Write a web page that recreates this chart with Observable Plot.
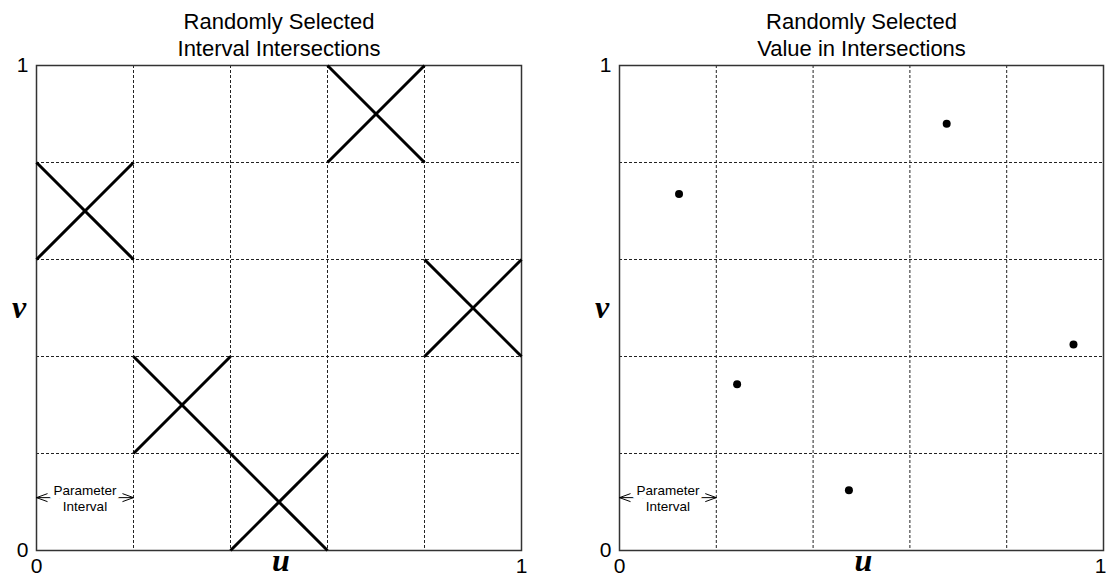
<!DOCTYPE html>
<html><head><meta charset="utf-8">
<script src="https://cdn.jsdelivr.net/npm/d3@7"></script>
<script src="https://cdn.jsdelivr.net/npm/@observablehq/plot@0.6"></script>
<style>
body{margin:0;background:white;}
#row{display:flex;width:1106px;height:581px;}
</style>
</head><body><div id="row"></div>
<script>
// ---- data ----
const intervalBreaks = [0.2, 0.4, 0.6, 0.8];
const nIntervals = 5;
const intervalU = [0, 1, 2, 3, 4];        // selected u-interval (column) per sample
const intervalV = [3, 1, 0, 4, 2];        // selected v-interval (row) per sample
const sampleU = [0.123, 0.243, 0.474, 0.676, 0.938];
const sampleV = [0.735, 0.343, 0.124, 0.880, 0.425];
const titleLeft = ["Randomly Selected", "Interval Intersections"];
const titleRight = ["Randomly Selected", "Value in Intersections"];
const tickLow = [0];
const tickHigh = [1];
const axisLabelU = "u";
const axisLabelV = "v";
const annotationText = "Parameter\nInterval";
const annotationSpan = [0, 0.2];
const annotationV = 0.109;

// ---- derived tables ----
const w = 1 / nIntervals;
const crosses = intervalU.flatMap((c, i) => {
  const r = intervalV[i];
  return [
    {x1: c * w, y1: r * w, x2: (c + 1) * w, y2: (r + 1) * w},
    {x1: c * w, y1: (r + 1) * w, x2: (c + 1) * w, y2: r * w}
  ];
});
const samples = sampleU.map((u, i) => ({u, v: sampleV[i]}));
const annMid = (annotationSpan[0] + annotationSpan[1]) / 2;
const annArrows = annotationSpan.map(e => ({x1: annMid, x2: e, y: annotationV}));

const sans = "'Liberation Sans', Arial, sans-serif";
const serif = "'Liberation Serif', 'Times New Roman', serif";
const tickStyle = {tickSize: 0, label: null, tickFormat: d => String(d), fontSize: 21};
const labelStyle = {text: d => d, fontFamily: serif, fontWeight: "bold", fontStyle: "italic", fontSize: 32, lineAnchor: "middle", textAnchor: "middle"};

function panel(titleLines, dataMarks, marginLeft, marginRight, highDx) {
  return Plot.plot({
    width: 553, height: 581,
    marginTop: 65, marginBottom: 31, marginLeft, marginRight,
    x: {domain: [0, 1]},
    y: {domain: [0, 1]},
    style: {fontFamily: sans, fontSize: "21px", background: "white", color: "black", overflow: "visible"},
    marks: [
      Plot.ruleX(intervalBreaks, {stroke: "#222", strokeWidth: 1, strokeDasharray: "3,2"}),
      Plot.ruleY(intervalBreaks, {stroke: "#222", strokeWidth: 1, strokeDasharray: "3,2"}),
      Plot.frame({stroke: "#333", strokeWidth: 1.5}),
      Plot.axisX({...tickStyle, ticks: tickLow, tickPadding: 8}),
      Plot.axisX({...tickStyle, ticks: tickHigh, tickPadding: 8, dx: highDx}),
      Plot.axisY({...tickStyle, ticks: [...tickLow, ...tickHigh], tickPadding: 8}),
      Plot.text([axisLabelU], {...labelStyle, frameAnchor: "bottom", dy: 10, dx: 2}),
      Plot.text([axisLabelV], {...labelStyle, frameAnchor: "left", dx: -17.5, dy: 0}),
      ...titleLines.map((line, i) => Plot.text([line], {
        text: d => d, frameAnchor: "top", lineAnchor: "middle", textAnchor: "middle",
        dy: -43.4 + 27 * i, fontSize: 22
      })),
      Plot.arrow(annArrows, {x1: "x1", x2: "x2", y1: "y", y2: "y", stroke: "black", strokeWidth: 1, headAngle: 40, headLength: 17}),
      Plot.text([annotationText], {text: d => d, x: annMid, y: annotationV, lineAnchor: "middle", lineHeight: 1.25, fontSize: 13.5, stroke: "white", strokeWidth: 10, fill: "black"}),
      ...dataMarks
    ]
  });
}

const left = panel(titleLeft, [
  Plot.link(crosses, {x1: "x1", y1: "y1", x2: "x2", y2: "y2", stroke: "black", strokeWidth: 3})
], 36, 32, 0);
const right = panel(titleRight, [
  Plot.dot(samples, {x: "u", y: "v", r: 4, fill: "black", stroke: "none"})
], 66, 3, -3);

const row = document.getElementById("row");
row.appendChild(left);
row.appendChild(right);
</script>
</body></html>
